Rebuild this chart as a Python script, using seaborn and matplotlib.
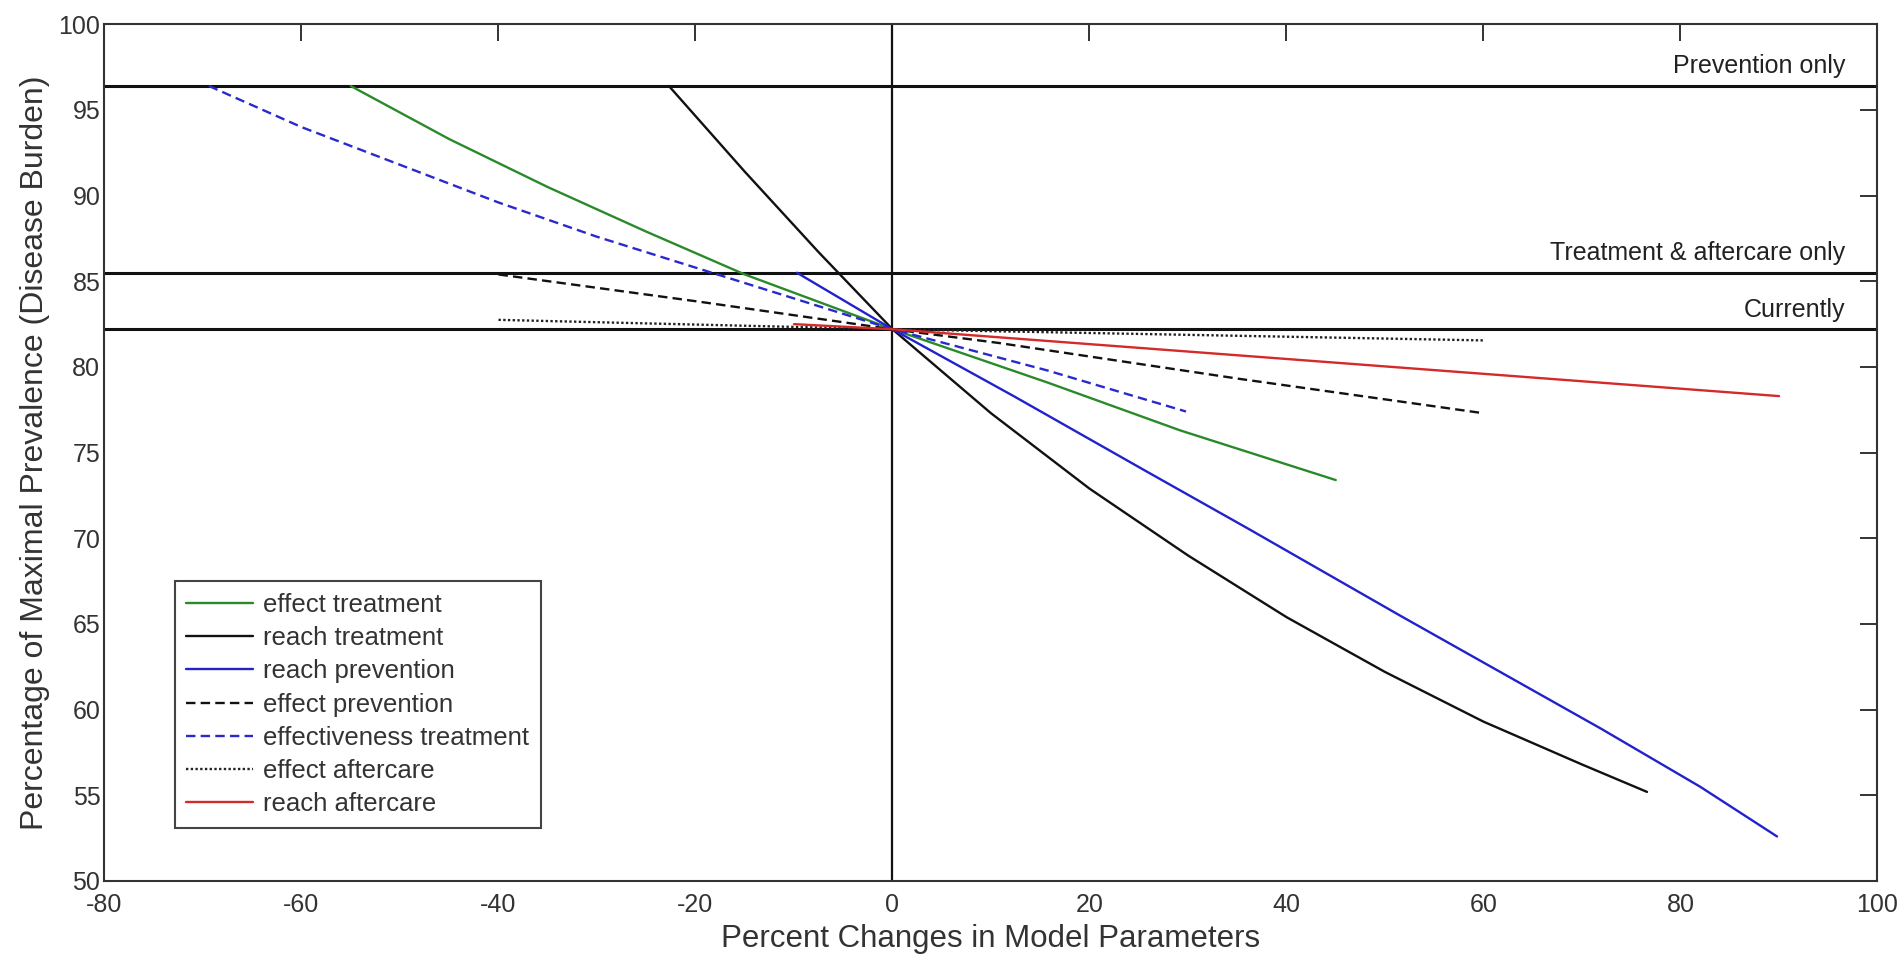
import matplotlib
matplotlib.use("Agg")
import matplotlib.pyplot as plt
import seaborn as sns
import pandas as pd

# ---------------- data ----------------
effect_treatment_x = [-55, -45, -35, -25, -15, 0, 15.7, 29.2, 45]
effect_treatment_y = [96.4, 93.3, 90.5, 87.9, 85.4, 82.2, 79.1, 76.3, 73.4]

reach_treatment_x = [-22.7, -15, -7.5, 0, 10, 20, 30, 40, 50, 60, 70, 76.6]
reach_treatment_y = [96.4, 91.4, 86.7, 82.2, 77.3, 72.9, 69.0, 65.4, 62.2, 59.3, 56.8, 55.2]

reach_prevention_x = [-9.7, 0, 12.3, 25.8, 36.0, 51.5, 61.7, 71.9, 82.0, 89.8]
reach_prevention_y = [85.5, 82.2, 78.3, 73.9, 70.6, 65.5, 62.2, 58.9, 55.5, 52.6]

effect_prevention_x = [-40, -19.5, 0, 10.8, 35.3, 60]
effect_prevention_y = [85.4, 83.8, 82.2, 81.4, 79.3, 77.3]

effectiveness_treatment_x = [-69.4, -60, -50, -40, -30, -20, -10, 0, 15.7, 29.8]
effectiveness_treatment_y = [96.4, 94.0, 91.8, 89.6, 87.6, 85.8, 84.0, 82.2, 79.8, 77.4]

effect_aftercare_x = [-40, 0, 60]
effect_aftercare_y = [82.75, 82.2, 81.55]

reach_aftercare_x = [-10, 0, 90]
reach_aftercare_y = [82.5, 82.2, 78.3]

ref_levels = [96.4, 85.5, 82.2]
ref_labels = ["Prevention only", "Treatment & aftercare only", "Currently"]

x_ticks = [-80, -60, -40, -20, 0, 20, 40, 60, 80, 100]
y_ticks = [50, 55, 60, 65, 70, 75, 80, 85, 90, 95, 100]

series = [
    ("effect treatment", effect_treatment_x, effect_treatment_y, "#2a8a2a", "-"),
    ("reach treatment", reach_treatment_x, reach_treatment_y, "#111111", "-"),
    ("reach prevention", reach_prevention_x, reach_prevention_y, "#2222cc", "-"),
    ("effect prevention", effect_prevention_x, effect_prevention_y, "#111111", (0, (4, 2.2))),
    ("effectiveness treatment", effectiveness_treatment_x, effectiveness_treatment_y, "#2a2acc", (0, (4, 2.2))),
    ("effect aftercare", effect_aftercare_x, effect_aftercare_y, "#222222", (0, (1, 1))),
    ("reach aftercare", reach_aftercare_x, reach_aftercare_y, "#d42a2a", "-"),
]

# ---------------- style ----------------
sns.set_style("white")
plt.rcParams["font.family"] = ["Liberation Sans", "DejaVu Sans"]
plt.rcParams["axes.unicode_minus"] = False

fig = plt.figure(figsize=(19.03, 9.6), dpi=100)
ax = fig.add_axes([0.0549, 0.0823, 0.9317, 0.8924])

# reference lines
for lvl, lab in zip(ref_levels, ref_labels):
    ax.axhline(lvl, color="#111111", lw=2.2, zorder=1)
    ax.text(96.7, lvl + 0.45, lab, ha="right", va="bottom", fontsize=18, color="#222222")
ax.axvline(0, color="#111111", lw=1.6, zorder=1)

for name, xs, ys, col, ls in series:
    df = pd.DataFrame({"x": xs, "y": ys})
    sns.lineplot(data=df, x="x", y="y", ax=ax, color=col, linestyle=ls,
                 linewidth=1.7, sort=False, label=name, zorder=3)

ax.set_xlim(-80, 100)
ax.set_ylim(50, 100)
ax.set_xticks(x_ticks)
ax.set_yticks(y_ticks)
ax.tick_params(direction="in", length=12, width=1.2, top=True, right=True,
               labelsize=18, colors="#111111", labelcolor="#333333")
ax.tick_params(axis="y", pad=3)
ax.tick_params(axis="x", pad=9)
for s in ax.spines.values():
    s.set_color("#333333")
    s.set_linewidth(1.5)

ax.set_xlabel("Percent Changes in Model Parameters", fontsize=22.5, color="#333333", labelpad=5)
ax.set_ylabel("Percentage of Maximal Prevalence (Disease Burden)", fontsize=23, color="#333333", labelpad=6)

leg = ax.legend(loc="lower left", bbox_to_anchor=(0.0395, 0.062), borderaxespad=0,
                fontsize=18.5, frameon=True, fancybox=False, framealpha=1,
                edgecolor="#444444", handlelength=2.6, handletextpad=0.4,
                labelspacing=0.36, borderpad=0.45)
leg.get_frame().set_linewidth(1.5)
for t in leg.get_texts():
    t.set_color("#333333")

fig.savefig("out.png", dpi=100, facecolor="white")
